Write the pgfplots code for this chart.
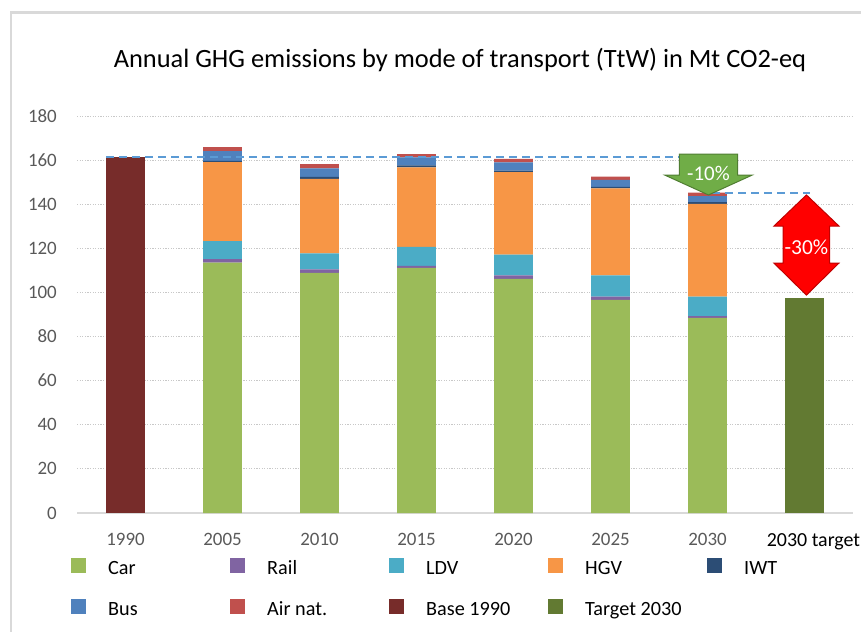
\documentclass[border=0pt]{standalone}
\usepackage{pgfplots}
\pgfplotsset{compat=1.18}
\usepackage{pgfplotstable}
\usepackage{fontspec}
\setmainfont{Carlito}

\definecolor{car}{HTML}{9BBB59}
\definecolor{rail}{HTML}{8064A2}
\definecolor{ldv}{HTML}{4BACC6}
\definecolor{hgv}{HTML}{F79646}
\definecolor{iwt}{HTML}{2C4D75}
\definecolor{bus}{HTML}{4F81BD}
\definecolor{air}{HTML}{C0504D}
\definecolor{base}{HTML}{772C2A}
\definecolor{target}{HTML}{627A32}
\definecolor{refline}{HTML}{5B9BD5}
\definecolor{gridgray}{HTML}{C8C8C8}
\definecolor{axisgray}{HTML}{D9D9D9}
\definecolor{labelgray}{HTML}{595959}
\definecolor{arrowgreen}{HTML}{70AD47}
\definecolor{arrowgreenline}{HTML}{507E32}
\definecolor{arrowred}{HTML}{FF0000}
\definecolor{arrowredline}{HTML}{C00000}

% Mt CO2-eq, x: 0=1990 ... 6=2030, 7=2030 target
\pgfplotstableread{
x car   rail ldv hgv  iwt bus air base  target
0 0     0    0   0    0   0   0   161.5 0
1 113.5 1.6  8.2 35.8 0.6 4.4 1.8 0     0
2 108.9 1.6  7.2 33.8 0.9 3.9 1.9 0     0
3 111.1 0.9  8.7 36.0 0.9 3.6 1.5 0     0
4 106.1 1.6  9.4 37.5 0.6 3.8 1.6 0     0
5 96.6  1.5  9.6 39.5 0.7 3.1 1.5 0     0
6 88.5  0.8  8.8 42.0 0.9 2.7 1.5 0     0
7 0     0    0   0    0   0   0   0     97.5
}\emissions

\pgfplotsset{
  sqlegend/.style={legend image code/.code={\fill[##1] (0bp,-7.5bp) rectangle (15bp,7.5bp);}},
}
\newcommand{\entry}[1]{\makebox[122bp][l]{\rule[-7.5bp]{0pt}{28bp}#1}}

\begin{document}
\begin{tikzpicture}
\useasboundingbox (0,0) rectangle (861bp,632bp);
\draw[line width=2.5bp, color=axisgray] (11bp,-2bp) -- (11bp,619.5bp) -- (865bp,619.5bp);
\begin{axis}[
    at={(77bp,119bp)}, anchor=south west,
    width=776bp, height=397bp, scale only axis,
    ybar stacked, bar width=0.4,
    xmin=-0.5, xmax=7.5,
    ymin=0, ymax=180,
    ytick={0,20,...,180},
    xtick={0,...,7},
    xticklabels={1990,2005,2010,2015,2020,2025,2030,{\color{black}\fontsize{20}{22}\selectfont\hspace*{18bp}2030 target}},
    ymajorgrids,
    major grid style={color=gridgray, line width=0.9bp, dash pattern=on 1.2bp off 1.4bp},
    axis x line*=bottom, axis y line*=left,
    x axis line style={color=axisgray, line width=1.3bp, -},
    y axis line style={draw=none},
    major tick length=0pt,
    tick label style={font=\fontsize{19}{22}\selectfont, color=labelgray},
    /pgf/number format/assume math mode=true,
    yticklabel style={anchor=east, inner sep=0pt, xshift=-20bp},
    xticklabel style={anchor=north, inner sep=0pt, yshift=-20bp},
    clip=false,
    legend columns=5,
    legend cell align=left,
    legend style={at={(axis description cs:-0.0077,-0.1033)}, anchor=north west,
      draw=none, fill=none, inner sep=0pt, row sep=19bp,
      font=\fontsize{20.3}{24}\selectfont,
      nodes={inner sep=0pt},
      /tikz/every odd column/.append style={column sep=22bp},
      /tikz/every even column/.append style={column sep=0bp}},
]
\addplot[fill=car, draw=none, sqlegend] table[x=x, y=car] {\emissions};
\addlegendentry{\entry{Car}}
\addplot[fill=rail, draw=none, sqlegend] table[x=x, y=rail] {\emissions};
\addlegendentry{\entry{Rail}}
\addplot[fill=ldv, draw=none, sqlegend] table[x=x, y=ldv] {\emissions};
\addlegendentry{\entry{LDV}}
\addplot[fill=hgv, draw=none, sqlegend] table[x=x, y=hgv] {\emissions};
\addlegendentry{\entry{HGV}}
\addplot[fill=iwt, draw=none, sqlegend] table[x=x, y=iwt] {\emissions};
\addlegendentry{\entry{IWT}}
\addplot[fill=bus, draw=none, sqlegend] table[x=x, y=bus] {\emissions};
\addlegendentry{\entry{Bus}}
\addplot[fill=air, draw=none, sqlegend] table[x=x, y=air] {\emissions};
\addlegendentry{\entry{Air nat.}}
\addplot[fill=base, draw=none, sqlegend] table[x=x, y=base] {\emissions};
\addlegendentry{\entry{Base 1990}}
\addplot[fill=target, draw=none, sqlegend] table[x=x, y=target] {\emissions};
\addlegendentry{\entry{Target 2030}}

% anchor points for the annotations (drawn after the axis)
\coordinate (l1a) at (axis cs:-0.2,161.5);
\coordinate (l1b) at (axis cs:6.0,161.5);
\coordinate (l2a) at (axis cs:6.05,144.9);
\coordinate (l2b) at (axis cs:7.06,144.9);
\coordinate (g1) at (axis cs:5.71,162.7);
\coordinate (g2) at (axis cs:6.31,162.7);
\coordinate (g3) at (axis cs:6.31,153.2);
\coordinate (g4) at (axis cs:6.46,153.2);
\coordinate (g5) at (axis cs:6.01,144.2);
\coordinate (g6) at (axis cs:5.56,153.2);
\coordinate (g7) at (axis cs:5.71,153.2);
\coordinate (gt) at (axis cs:6.01,154);
\coordinate (r1) at (axis cs:7.02,144.2);
\coordinate (r2) at (axis cs:7.355,130.1);
\coordinate (r3) at (axis cs:7.26,130.1);
\coordinate (r4) at (axis cs:7.26,113.3);
\coordinate (r5) at (axis cs:7.355,113.3);
\coordinate (r6) at (axis cs:7.02,98.8);
\coordinate (r7) at (axis cs:6.685,113.3);
\coordinate (r8) at (axis cs:6.78,113.3);
\coordinate (r9) at (axis cs:6.78,130.1);
\coordinate (r10) at (axis cs:6.685,130.1);
\coordinate (rt) at (axis cs:7.02,120.7);
\end{axis}

% reference levels
\draw[refline, line width=2bp, dash pattern=on 8bp off 5bp] (l1a) -- (l1b);
\draw[refline, line width=2bp, dash pattern=on 8bp off 5bp] (l2a) -- (l2b);
% -10% arrow
\filldraw[fill=arrowgreen, draw=arrowgreenline, line width=1bp]
  (g1) -- (g2) -- (g3) -- (g4) -- (g5) -- (g6) -- (g7) -- cycle;
\node[text=white, font=\fontsize{21}{24}\selectfont] at (gt) {-10\%};
% -30% arrow
\filldraw[fill=arrowred, draw=arrowredline, line width=1bp]
  (r1) -- (r2) -- (r3) -- (r4) -- (r5) -- (r6) -- (r7) -- (r8) -- (r9) -- (r10) -- cycle;
\node[text=white, font=\fontsize{21.5}{24}\selectfont] at (rt) {-30\%};

\node[anchor=base, font=\fontsize{26.5}{30}\selectfont] at (460bp,564bp)
  {Annual GHG emissions by mode of transport (TtW) in Mt CO2-eq};
\end{tikzpicture}
\end{document}
